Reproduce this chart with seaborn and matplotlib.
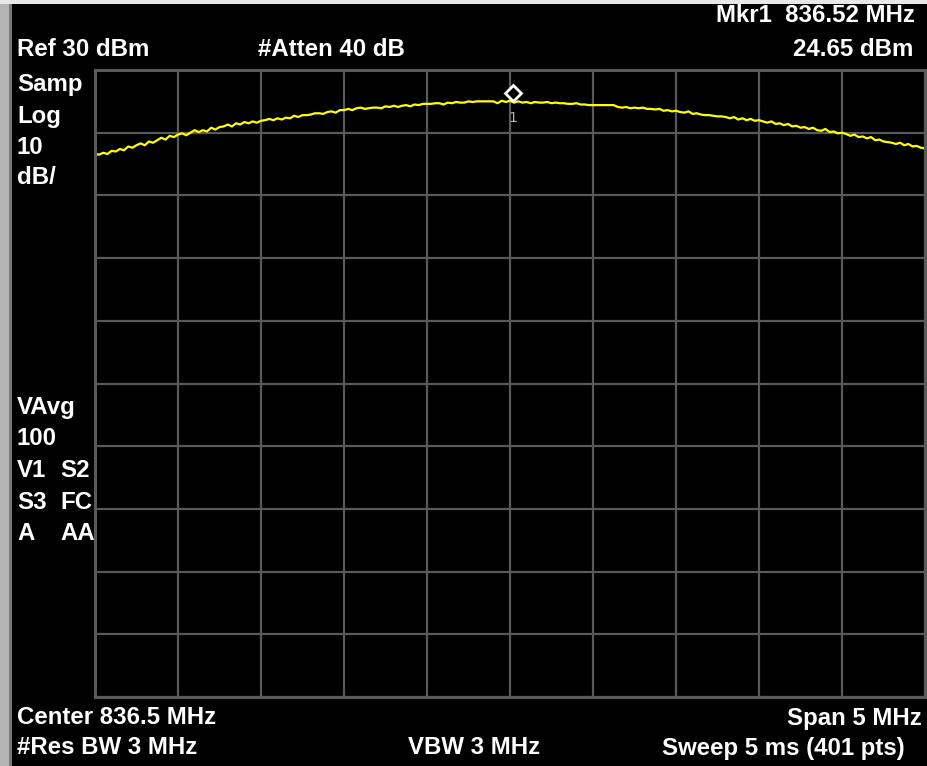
import numpy as np
import pandas as pd
import matplotlib
matplotlib.use("Agg")
import matplotlib.pyplot as plt
import matplotlib.transforms as mtransforms
from matplotlib.patches import Rectangle
import seaborn as sns

# ---------------- data ----------------
center_mhz = 836.5
span_mhz = 5.0
ref_dbm = 30
db_per_div = 10
marker_freq = 836.52
marker_level = 24.65

level_dbm = [
    16.6, 16.5, 16.8, 16.6, 17.1, 17.0, 17.4, 17.2, 17.8, 17.6, 18.0,
    18.3, 18.0, 18.6, 18.4, 18.8, 19.2, 18.9, 19.5, 19.3, 19.7,
    19.9, 19.6, 20.0, 20.4, 20.1, 20.4, 20.2, 20.8, 20.5, 20.9,
    21.0, 21.3, 21.0, 21.5, 21.3, 21.7, 21.5, 21.8, 21.6, 21.9,
    22.0, 22.2, 22.0, 22.3, 22.1, 22.4, 22.3, 22.7, 22.5, 22.8,
    22.8, 22.9, 23.1, 23.1, 23.0, 23.3, 23.4, 23.2, 23.6, 23.6,
    23.8, 23.6, 23.9, 24.0, 23.8, 23.9, 24.0, 24.0, 23.9, 24.2,
    24.1, 24.3, 24.1, 24.3, 24.4, 24.2, 24.5, 24.4, 24.6, 24.6,
    24.6, 24.7, 24.7, 24.5, 24.8, 24.7, 24.9, 24.8, 24.8, 25.0,
    24.9, 25.0, 25.0, 25.0, 25.0, 25.0, 24.7, 25.1, 24.9, 25.1,
    24.8, 25.0, 24.8, 24.9, 24.7, 24.9, 24.8, 24.8, 24.9, 24.7,
    24.8, 24.7, 24.7, 24.6, 24.6, 24.7, 24.5, 24.5, 24.4, 24.4,
    24.4, 24.4, 24.4, 24.4, 24.4,
    24.1, 24.0, 24.1, 23.9, 24.0,
    23.9, 24.0, 23.8, 23.8, 23.7, 23.8, 23.5, 23.6, 23.4, 23.5,
    23.3, 23.2, 23.4, 23.0, 23.1, 22.9, 22.8, 22.8, 22.7, 22.6,
    22.6, 22.5, 22.3, 22.5, 22.1, 22.3, 22.0, 22.2, 21.9, 22.0,
    21.8, 21.6, 21.8, 21.4, 21.5, 21.2, 21.4, 21.0, 21.1, 20.8,
    20.9, 20.6, 20.8, 20.4, 20.3, 20.6, 20.1, 20.2, 19.9, 20.0,
    19.8, 19.5, 19.7, 19.3, 19.4, 19.1, 19.3, 18.8, 18.9, 18.6,
    18.5, 18.4, 18.2, 18.4, 18.0, 18.2, 17.8, 17.9, 17.6, 17.5,
]

top_left_labels = ["Samp", "Log", "10", "dB/"]
mid_left_labels = [("VAvg", ""), ("100", ""), ("V1", "S2"), ("S3", "FC"), ("A", "AA")]

# ---------------- figure ----------------
W, H = 927, 766
sns.set_theme(style="dark")
plt.rcParams["font.family"] = ["Liberation Sans", "DejaVu Sans"]

fig = plt.figure(figsize=(W / 100, H / 100), dpi=100, facecolor="black")

# left grey frame stripe and top strip
fig.patches.append(Rectangle((0, 0), 9 / W, 1, transform=fig.transFigure,
                             facecolor="#b4b4b4", edgecolor="none", zorder=0))
fig.patches.append(Rectangle((9 / W, 0), 3 / W, 1, transform=fig.transFigure,
                             facecolor="#7a7a7a", edgecolor="none", zorder=0))
fig.patches.append(Rectangle((0, 1 - 4 / H), 1, 4 / H, transform=fig.transFigure,
                             facecolor="#e8e8e8", edgecolor="none", zorder=0))

left, right, top, bottom = 95, 925, 70, 697
ax = fig.add_axes([left / W, 1 - bottom / H, (right - left) / W, (bottom - top) / H])
ax.set_facecolor("black")

n = len(level_dbm)
freq = np.linspace(center_mhz - span_mhz / 2, center_mhz + span_mhz / 2, n)
df = pd.DataFrame({"freq": freq, "level": level_dbm})
sns.lineplot(data=df, x="freq", y="level", ax=ax, color="#ffff00", linewidth=1.6)

ax.set_xlim(center_mhz - span_mhz / 2, center_mhz + span_mhz / 2)
ax.set_ylim(ref_dbm - 10 * db_per_div, ref_dbm)
ax.set_xticks(np.linspace(center_mhz - span_mhz / 2, center_mhz + span_mhz / 2, 11))
ax.set_yticks(np.arange(ref_dbm - 10 * db_per_div, ref_dbm + 1, db_per_div))
ax.set_xticklabels([])
ax.set_yticklabels([])
ax.tick_params(length=0)
ax.set_xlabel("")
ax.set_ylabel("")
ax.grid(True, color="#595959", linewidth=1.6)
for s in ax.spines.values():
    s.set_visible(True)
    s.set_color("#595959")
    s.set_linewidth(2.2)

# marker
mk_tr = mtransforms.offset_copy(ax.transData, fig=fig, x=0, y=10.5, units="dots")
ax.plot([marker_freq], [marker_level], marker="D", markersize=8.5,
        markerfacecolor="black", markeredgecolor="white", markeredgewidth=2,
        linestyle="none", transform=mk_tr, zorder=5)
ax.annotate("1", (marker_freq, marker_level), xytext=(0, -14),
            textcoords="offset pixels", ha="center", va="center",
            color="#b0b0b0", fontsize=10, family="DejaVu Sans")

# ---------------- text ----------------
fs = 17.3
kw = dict(color="white", fontsize=fs, fontweight="bold", va="center")


def put(x, y, s, ha="left"):
    fig.text(x / W, 1 - y / H, s, ha=ha, **kw)


put(915, 16, "Mkr1  836.52 MHz", ha="right")
put(17, 50, "Ref 30 dBm")
put(258, 50, "#Atten 40 dB")
put(913, 50, "24.65 dBm", ha="right")

for i, s in enumerate(top_left_labels):
    put(17, 85 + i * 31, s)

for i, (a, b) in enumerate(mid_left_labels):
    y = 407 + i * 31.7
    put(17, y, a)
    if b:
        put(60, y, b)

put(17, 718, "Center 836.5 MHz")
put(922, 718, "Span 5 MHz", ha="right")
put(17, 748, "#Res BW 3 MHz")
put(408, 748, "VBW 3 MHz")
put(905, 748, "Sweep 5 ms (401 pts)", ha="right")

fig.savefig("out.png", dpi=100, facecolor="black")
